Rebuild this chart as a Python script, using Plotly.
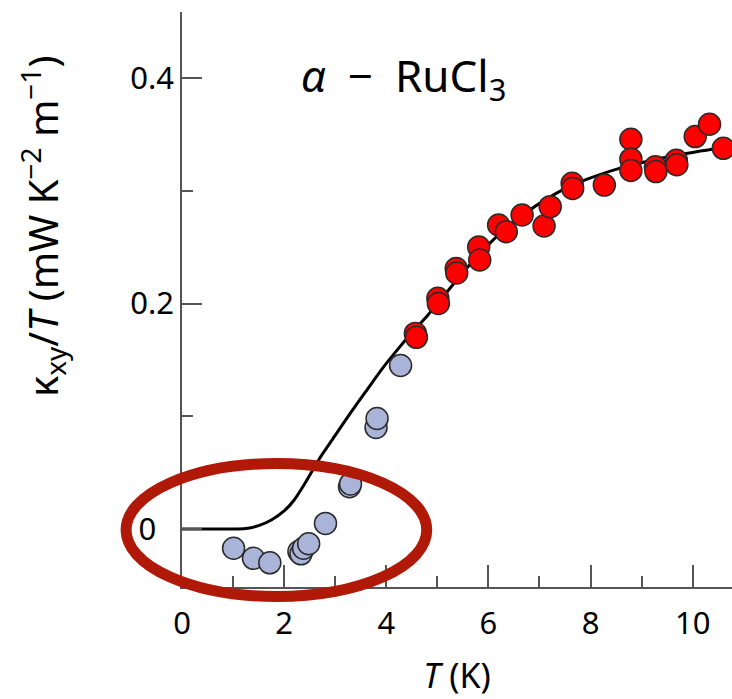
import plotly.graph_objects as go

# Blue (low-T) data
T_blue = [1.01, 1.40, 1.72, 2.29, 2.33, 2.38, 2.48, 2.81, 3.28, 3.30, 3.80, 3.82, 4.28]
k_blue = [-0.017, -0.026, -0.030, -0.020, -0.022, -0.017, -0.013, 0.005, 0.0375, 0.040, 0.090, 0.098, 0.145]

# Red (high-T) data
T_red = [4.57, 4.59, 5.01, 5.02, 5.37, 5.38, 5.81, 5.83, 6.20, 6.35, 6.66, 7.09, 7.21,
         7.64, 7.65, 8.27, 8.79, 8.79, 8.79, 9.27, 9.28, 9.68, 9.69, 10.05, 10.33, 10.60]
k_red = [0.1735, 0.170, 0.2046, 0.200, 0.231, 0.227, 0.250, 0.2386, 0.2696, 0.2637, 0.2785, 0.2687, 0.2859,
         0.3066, 0.302, 0.305, 0.3456, 0.328, 0.318, 0.3213, 0.317, 0.327, 0.323, 0.348, 0.359, 0.3376]

# Model curve
T_fit = [0.0, 0.5, 1.0, 1.25, 1.5, 1.75, 2.0, 2.2, 2.4, 2.7, 3.0, 3.3, 3.6, 3.9, 4.2, 4.5, 4.8,
         5.06, 5.4, 5.84, 6.25, 6.69, 7.15, 7.64, 8.1, 8.58, 9.1, 9.62, 10.0, 10.41, 10.8]
k_fit = [0.0, 0.0, 0.0, 0.0005, 0.003, 0.008, 0.016, 0.026, 0.040, 0.063, 0.083, 0.103, 0.122, 0.141, 0.158, 0.174, 0.189,
         0.203, 0.222, 0.2445, 0.263, 0.279, 0.293, 0.305, 0.313, 0.320, 0.326, 0.331, 0.334, 0.337, 0.339]

x_ticks = [0, 2, 4, 6, 8, 10]
y_ticks = [0, 0.2, 0.4]
y_ticktext = ["0\u2007", "0.2", "0.4"]

FONT = "Noto Sans"
AXC = "#555555"

fig = go.Figure()
fig.add_trace(go.Scatter(x=T_fit, y=k_fit, mode="lines", line=dict(color="black", width=3),
                         line_shape="spline", line_smoothing=0.6, showlegend=False, hoverinfo="skip"))
fig.add_trace(go.Scatter(x=T_blue, y=k_blue, mode="markers", showlegend=False,
                         marker=dict(size=22, color="#aab3d8", line=dict(color="#2a2a2a", width=1.5))))
fig.add_trace(go.Scatter(x=T_red, y=k_red, mode="markers", showlegend=False,
                         marker=dict(size=22, color="#ff0000", line=dict(color="#2a2a2a", width=1.5))))

fig.update_layout(
    width=732, height=699,
    margin=dict(l=181.5, r=0, t=12, b=112),
    plot_bgcolor="white", paper_bgcolor="white",
    font=dict(family=FONT, size=31, color="black"),
    xaxis=dict(range=[0, 10.77], tickvals=x_ticks, ticks="inside", ticklen=22, tickwidth=1.5,
               tickcolor=AXC, showline=True, linecolor=AXC, linewidth=1.5, showgrid=False,
               zeroline=False, ticklabelstandoff=8,
               minor=dict(dtick=1, tick0=0, ticks="inside", ticklen=11, tickwidth=1.5, tickcolor=AXC),
               tickfont=dict(size=31),
               title=dict(text="<i>T</i> (K)", font=dict(size=34), standoff=22)),
    yaxis=dict(range=[-0.0514, 0.4585], tickvals=y_ticks, ticktext=y_ticktext, ticks="inside", ticklen=20,
               tickwidth=1.5, tickcolor=AXC, showline=True, linecolor=AXC, linewidth=1.5,
               showgrid=False, zeroline=False,
               minor=dict(dtick=0.1, tick0=0, ticks="inside", ticklen=11, tickwidth=1.5, tickcolor=AXC),
               tickfont=dict(size=31)),
)

# y-axis title (placed above centre as in the reference)
fig.add_annotation(text="κ<sub>xy</sub>/<i>T</i> (mW K<sup>−2</sup> m<sup>−1</sup>)",
                   xref="paper", yref="paper", x=-0.2534, y=0.627, textangle=-90,
                   xanchor="center", yanchor="middle", showarrow=False, font=dict(size=40, family=FONT))

fig.add_annotation(text="<i>α</i>\u2002−\u2002RuCl<sub>3</sub>",
                   xref="paper", yref="y", x=0.212, y=0.4,
                   xanchor="left", yanchor="middle", showarrow=False, font=dict(size=44, family=FONT))

fig.add_shape(type="circle", xref="paper", yref="paper", x0=-0.1017, x1=0.445, y0=-0.0165, y1=0.2148,
              line=dict(color="#b01808", width=11), layer="above")

fig.write_html("out.html")
